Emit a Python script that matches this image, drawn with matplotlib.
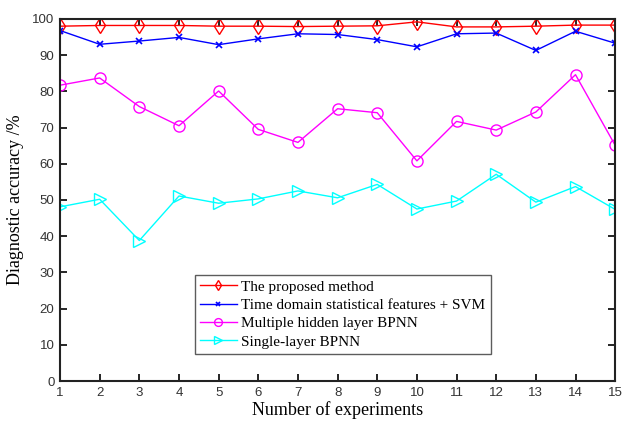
import matplotlib
matplotlib.use("Agg")
import matplotlib.pyplot as plt

experiments = list(range(1, 16))
proposed = [98.0, 98.2, 98.2, 98.2, 98.0, 98.0, 97.9, 98.0, 98.1, 99.2, 97.8, 97.8, 98.0, 98.3, 98.3]
svm = [96.8, 93.0, 93.9, 94.9, 92.9, 94.5, 95.9, 95.7, 94.3, 92.3, 95.9, 96.1, 91.3, 96.6, 93.3]
multi_bpnn = [81.7, 83.7, 75.8, 70.5, 80.1, 69.5, 65.9, 75.2, 74.1, 60.8, 71.7, 69.3, 74.3, 84.6, 65.1]
single_bpnn = [48.1, 50.2, 38.8, 51.1, 49.1, 50.3, 52.5, 50.6, 54.3, 47.5, 49.7, 57.1, 49.4, 53.7, 47.4]
labels = ["The proposed method", "Time domain statistical features + SVM",
          "Multiple hidden layer BPNN", "Single-layer BPNN"]

fig = plt.figure(figsize=(6.22, 4.21), dpi=100)
ax = fig.add_axes([0.0965, 0.095, 0.8925, 0.86])

ax.plot(experiments, proposed, color="red", marker="d", markersize=8, markerfacecolor="none",
        markeredgewidth=1.0, lw=1.0, label=labels[0])
ax.plot(experiments, svm, color="blue", marker="x", markersize=5, markeredgewidth=1.2,
        lw=1.0, label=labels[1])
ax.plot(experiments, multi_bpnn, color="magenta", marker="o", markersize=8, markerfacecolor="none",
        markeredgewidth=1.0, lw=1.0, label=labels[2])
ax.plot(experiments, single_bpnn, color="cyan", marker=">", markersize=8, markerfacecolor="none",
        markeredgewidth=1.0, lw=1.0, label=labels[3])

ax.set_xlim(1, 15)
ax.set_ylim(0, 100)
ax.set_xticks(experiments)
ax.set_yticks(range(0, 101, 10))
ax.tick_params(direction="in", length=5, width=1.2, top=True, right=True,
               labelsize=9.5, pad=4)
for lbl in ax.get_xticklabels() + ax.get_yticklabels():
    lbl.set_fontfamily("Liberation Sans")
    lbl.set_color("#333333")
for s in ax.spines.values():
    s.set_linewidth(1.5)
    s.set_color("#222222")

ax.set_xlabel("Number of experiments", family="Liberation Serif", fontsize=13, labelpad=2)
ax.set_ylabel("Diagnostic accuracy /%", family="Liberation Serif", fontsize=13, labelpad=6)

leg = ax.legend(loc="lower left", bbox_to_anchor=(0.2425, 0.075), prop={"family": "Liberation Serif", "size": 11},
                frameon=True, fancybox=False, edgecolor="#333333", handlelength=2.4, markerscale=0.7,
                borderpad=0.35, labelspacing=0.3, handletextpad=0.3, borderaxespad=0)
leg.get_frame().set_linewidth(1.0)

fig.savefig("out.png", dpi=100)
